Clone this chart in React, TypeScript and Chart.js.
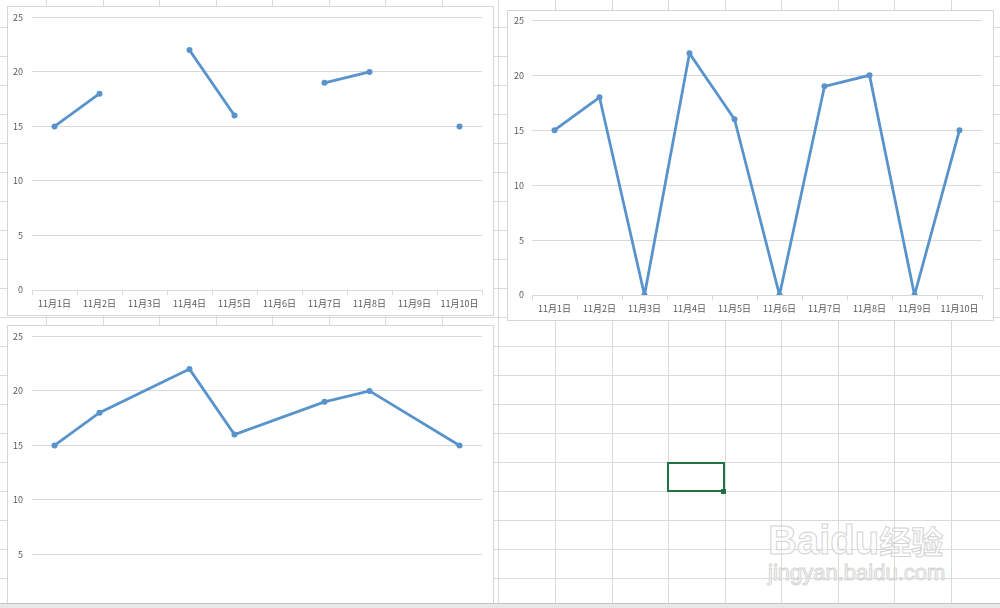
import React, { useEffect, useRef } from "react";
import { Chart, registerables } from "chart.js";

Chart.register(...registerables);

const categories = [
  "11月1日",
  "11月2日",
  "11月3日",
  "11月4日",
  "11月5日",
  "11月6日",
  "11月7日",
  "11月8日",
  "11月9日",
  "11月10日",
];
const gappedValues: (number | null)[] = [15, 18, null, 22, 16, null, 19, 20, null, 15];
const zeroValues: number[] = [15, 18, 0, 22, 16, 0, 19, 20, 0, 15];
const yTicks = [0, 5, 10, 15, 20, 25];

const FONT = '"Noto Sans CJK SC", "Microsoft YaHei", sans-serif';
const BLUE = "#5894cb";
const GRID = "#d9d9d9";
const SHEET_LINE = "#dadada";
const SHIFT = 4;

type BoxProps = {
  values: (number | null)[];
  spanGaps: boolean;
  left: number;
  top: number;
  w: number;
  h: number;
  yLabelPad: number;
};

function LineBox({ values, spanGaps, left, top, w, h, yLabelPad }: BoxProps) {
  const ref = useRef<HTMLCanvasElement>(null);
  useEffect(() => {
    const chart = new Chart(ref.current!, {
      type: "line",
      data: {
        labels: categories,
        datasets: [
          {
            data: values,
            borderColor: BLUE,
            backgroundColor: BLUE,
            borderWidth: 2.8,
            pointRadius: 3,
            pointBorderWidth: 0,
            pointBackgroundColor: BLUE,
            spanGaps,
            tension: 0,
          },
        ],
      },
      options: {
        responsive: false,
        animation: false,
        layout: { padding: { top: 6, right: 11, left: 0, bottom: 0 } },
        plugins: { legend: { display: false }, tooltip: { enabled: false } },
        scales: {
          x: {
            offset: true,
            grid: {
              offset: true,
              drawOnChartArea: false,
              drawTicks: true,
              tickLength: 5,
              color: GRID,
            },
            border: { display: true, color: GRID },
            ticks: {
              padding: 3,
              color: "#595959",
              font: { size: 9, family: FONT },
              maxRotation: 0,
              autoSkip: false,
            },
            afterFit: (s: any) => {
              s.height = 25;
            },
          },
          y: {
            min: 0,
            max: 25,
            afterBuildTicks: (s: any) => {
              s.ticks = yTicks.map((v) => ({ value: v }));
            },
            grid: { color: GRID, drawTicks: false },
            border: { display: false },
            ticks: {
              padding: yLabelPad,
              color: "#595959",
              font: { size: 9, family: FONT },
            },
            afterFit: (s: any) => {
              s.width = 24;
            },
          },
        },
      },
    } as any);
    return () => chart.destroy();
  }, []);
  return (
    <div
      style={{
        position: "absolute",
        left,
        top,
        width: w,
        height: h,
        border: "1px solid #d6d6d6",
        background: "#fff",
        boxSizing: "border-box",
        overflow: "hidden",
      }}
    >
      <canvas
        ref={ref}
        width={w - 2}
        height={h - 2 + SHIFT}
        style={{ display: "block", marginTop: -SHIFT }}
      />
    </div>
  );
}

export default function App() {
  const vLines: number[] = [];
  for (let k = 0; k <= 16; k++) vLines.push(Math.round(46 + 56.56 * k));
  const hLines: number[] = [];
  for (let k = 0; k <= 20; k++) hLines.push(27 + 29 * k);

  return (
    <div
      style={{
        position: "fixed",
        left: 0,
        top: 0,
        width: 1000,
        height: 608,
        overflow: "hidden",
        background: "#fff",
      }}
    >
      {vLines.map((x) => (
        <div
          key={"v" + x}
          style={{ position: "absolute", left: x, top: 0, width: 1, height: 608, background: SHEET_LINE }}
        />
      ))}
      {hLines.map((y) => (
        <div
          key={"h" + y}
          style={{ position: "absolute", left: 0, top: y, width: 1000, height: 1, background: SHEET_LINE }}
        />
      ))}
      <div
        style={{
          position: "absolute",
          left: 667,
          top: 462,
          width: 58,
          height: 30,
          border: "2px solid #217346",
          boxSizing: "border-box",
        }}
      />
      <div
        style={{ position: "absolute", left: 721, top: 489, width: 5, height: 5, background: "#217346" }}
      />
      <div
        style={{
          position: "absolute",
          left: 768,
          top: 518,
          fontFamily: '"Liberation Sans", Arial, sans-serif',
          fontSize: 40,
          fontWeight: 700,
          color: "rgba(255,255,255,0.6)",
          WebkitTextStroke: "1px #d4d4d4",
          lineHeight: "44px",
          whiteSpace: "nowrap",
        }}
      >
        Baidu<span style={{ fontFamily: '"Noto Sans CJK SC", sans-serif', fontSize: 32 }}>经验</span>
      </div>
      <div
        style={{
          position: "absolute",
          left: 768,
          top: 559,
          fontFamily: '"Liberation Sans", Arial, sans-serif',
          fontSize: 22,
          color: "rgba(255,255,255,0.6)",
          WebkitTextStroke: "1px #d4d4d4",
          lineHeight: "28px",
          whiteSpace: "nowrap",
        }}
      >
        jingyan.baidu.com
      </div>

      <LineBox values={gappedValues} spanGaps={false} left={7} top={6} w={487} h={310} yLabelPad={9} />
      <LineBox values={zeroValues} spanGaps={false} left={507} top={10} w={487} h={311} yLabelPad={8} />
      <LineBox values={gappedValues} spanGaps={true} left={7} top={325} w={487} h={310} yLabelPad={9} />

      <div
        style={{
          position: "absolute",
          left: 0,
          top: 603,
          width: 1000,
          height: 5,
          background: "#e8e8e8",
          borderTop: "1px solid #c4c4c4",
          boxSizing: "border-box",
        }}
      />
    </div>
  );
}
